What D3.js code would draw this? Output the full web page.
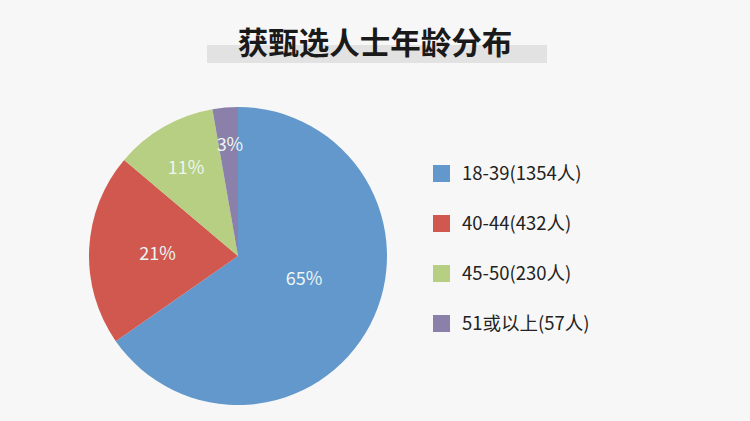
<!DOCTYPE html>
<html>
<head>
<meta charset="utf-8">
<script src="https://cdn.jsdelivr.net/npm/d3@7"></script>
<style>
  html, body { margin: 0; padding: 0; background: #f7f7f7; }
  svg { display: block; font-family: "Noto Sans CJK SC", "Noto Sans", sans-serif; }
</style>
</head>
<body>
<div id="chart"></div>
<script>
const title = "获甄选人士年龄分布"
const groups = ["18-39", "40-44", "45-50", "51或以上"]
const counts = [1354, 432, 230, 57]
const colors = ["#6398cc", "#d1584f", "#b7cf82", "#8a80a9"]

const width = 750, height = 421
const svg = d3.select("#chart").append("svg")
  .attr("width", width)
  .attr("height", height)

svg.append("rect")
  .attr("width", width).attr("height", height)
  .attr("fill", "#f7f7f7")

// title with gray band behind it
svg.append("rect")
  .attr("x", 207).attr("y", 45)
  .attr("width", 340).attr("height", 18)
  .attr("fill", "#e2e2e2")

svg.append("text")
  .attr("x", 375).attr("y", 54)
  .attr("text-anchor", "middle")
  .style("font-size", "30.5px")
  .style("font-weight", "bold")
  .style("fill", "#1a1a1a")
  .text(title)

const total = d3.sum(counts)
const data = groups.map((g, i) => ({ group: g, count: counts[i] }))

const pie = d3.pie().value(d => d.count).sort(null)
const radius = 149
const arc = d3.arc().innerRadius(0).outerRadius(radius)

const g = svg.append("g").attr("transform", "translate(238,256)")

const arcs = pie(data)

g.selectAll("path")
  .data(arcs)
  .join("path")
  .attr("d", arc)
  .attr("fill", (d, i) => colors[i])

// label placement: fraction of radius and small angle nudge (degrees)
const labelRadius = [0.47, 0.54, 0.69, 0.75]
const labelNudge = [-8.4, -1.3, -0.5, 0.8]
g.selectAll("text.pct")
  .data(arcs)
  .join("text")
  .attr("class", "pct")
  .attr("transform", (d, i) => {
    const a = (d.startAngle + d.endAngle) / 2 + labelNudge[i] * Math.PI / 180
    const r = radius * labelRadius[i]
    return `translate(${Math.sin(a) * r},${-Math.cos(a) * r})`
  })
  .attr("text-anchor", "middle")
  .attr("dy", "0.35em")
  .style("font-size", "18px")
  .style("fill", "#eaf6f4")
  .text(d => Math.round(d.data.count / total * 100) + "%")

// legend
const legend = svg.append("g").attr("transform", "translate(433,174)")
const row = legend.selectAll("g")
  .data(data)
  .join("g")
  .attr("transform", (d, i) => `translate(0,${i * 50})`)

row.append("rect")
  .attr("x", 0).attr("y", -9)
  .attr("width", 17).attr("height", 17)
  .attr("fill", (d, i) => colors[i])

row.append("text")
  .attr("x", 29).attr("y", 0)
  .attr("dy", "0.35em")
  .style("font-size", "18.5px")
  .style("fill", "#222")
  .text(d => `${d.group}(${d.count}人)`)
</script>
</body>
</html>
